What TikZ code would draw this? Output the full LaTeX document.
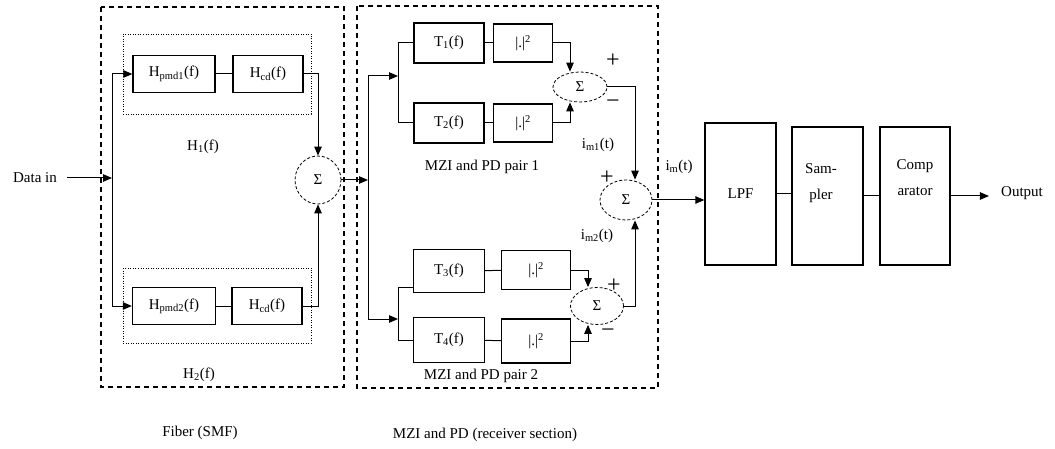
\documentclass[tikz,border=0pt]{standalone}
\usepackage{fontspec}
\setmainfont{Liberation Serif}
\usetikzlibrary{arrows.meta,shapes.geometric,calc}
\begin{document}
\begin{tikzpicture}[x=1pt,y=-1pt,
  every node/.style={font=\fontsize{15}{17}\selectfont, inner sep=0pt},
  blk/.style={draw, line width=1.3pt},
  conn/.style={line width=1pt},
  arr/.style={conn, -{Triangle[length=9pt,width=7.5pt]}},
  sumnode/.style={ellipse, draw, line width=0.8pt, densely dashed},
  sect/.style={line width=1.4pt, dash pattern=on 5pt off 4pt},
  grp/.style={line width=0.8pt, dash pattern=on 1pt off 1.5pt},
  pm/.style={font=\fontsize{24}{24}\selectfont},
  twoline/.style={align=center, font=\fontsize{15}{26}\selectfont}]
\useasboundingbox (0,0) rectangle (1055,449);
% section boxes
\draw[sect] (101,7) rectangle (344,387);
\draw[sect] (357,6) rectangle (658,388);
\draw[grp] (123,34) rectangle (311,114);
\draw[grp] (123,268) rectangle (311,343);
% fiber blocks
\node[blk, minimum width=82pt, minimum height=37pt] (hp1) at (174,74) {H\textsubscript{pmd1}(f)};
\node[blk, minimum width=70pt, minimum height=37pt] (hc1) at (268,74) {H\textsubscript{cd}(f)};
\node[blk, minimum width=83pt, minimum height=37pt] (hp2) at (174,306) {H\textsubscript{pmd2}(f)};
\node[blk, minimum width=70pt, minimum height=37pt] (hc2) at (267,306) {H\textsubscript{cd}(f)};
\node[sumnode, minimum width=46pt, minimum height=48pt] (sigF) at (318,180) {Σ};
\node (data) at (35,178) {Data in};
\coordinate (sTop) at (112,74);
\coordinate (sMid) at (112,178);
\coordinate (sBot) at (112,306);
\draw[conn] (sTop) -- (sBot);
\draw[arr, shorten <=10pt] (data.east) -- (sMid);
\draw[arr] (sTop) -- (hp1.west);
\draw[arr] (sBot) -- (hp2.west);
\draw[conn] (hp1) -- (hc1);
\draw[conn] (hp2) -- (hc2);
\draw[arr] (hc1.east) -| (sigF.north);
\draw[arr] (hc2.east) -| (sigF.south);
\node (h1) at (203,147) {H\textsubscript{1}(f)};
\node (h2) at (199,375) {H\textsubscript{2}(f)};
\node (fib) at (200,433) {Fiber (SMF)};
% MZI section
\coordinate (mTop) at (368,76);
\coordinate (mMid) at (368,180);
\coordinate (mBot) at (368,319);
\draw[arr] (sigF.east) -- (mMid);
\draw[conn] (mTop) -- (mBot);
% pair 1
\node[blk, minimum width=70pt, minimum height=40pt] (t1) at (449,43) {T\textsubscript{1}(f)};
\node[blk, minimum width=59pt, minimum height=38pt] (a1) at (523,43) {|.|\textsuperscript{2}};
\node[blk, minimum width=70pt, minimum height=40pt] (t2) at (449,123) {T\textsubscript{2}(f)};
\node[blk, minimum width=59pt, minimum height=38pt] (a2) at (523,123) {|.|\textsuperscript{2}};
\node[sumnode, minimum width=54pt, minimum height=30pt] (s1) at (580,87) {Σ};
\coordinate (p1a) at (398,43);
\coordinate (p1m) at (398,76);
\coordinate (p1b) at (398,123);
\draw[arr] (mTop) -- (p1m);
\draw[conn] (p1a) -- (p1b);
\draw[conn] (p1a) -- (t1.west);
\draw[conn] (p1b) -- (t2.west);
\draw[conn] (t1) -- (a1);
\draw[conn] (t2) -- (a2);
\coordinate (s1t) at ([xshift=-10pt]s1.north);
\coordinate (s1b) at ([xshift=-10pt]s1.south);
\draw[arr] (a1.east) -| (s1t);
\draw[arr] (a2.east) -| (s1b);
\node[pm] (pl1) at (613,61) {+};
\node[pm] (mi1) at (613,104) {−};
\node (pair1) at (482,167) {MZI and PD pair 1};
% pair 2
\node[blk, minimum width=71pt, minimum height=43pt] (t3) at (449,271) {T\textsubscript{3}(f)};
\node[blk, minimum width=69pt, minimum height=39pt] (a3) at (536,270) {|.|\textsuperscript{2}};
\node[blk, minimum width=71pt, minimum height=45pt] (t4) at (449,340) {T\textsubscript{4}(f)};
\node[blk, minimum width=69pt, minimum height=44pt] (a4) at (536,341) {|.|\textsuperscript{2}};
\node[sumnode, minimum width=53pt, minimum height=37pt] (s2) at (597,306) {Σ};
\coordinate (p2a) at (398,287);
\coordinate (p2m) at (398,319);
\coordinate (p2b) at (398,340);
\draw[arr] (mBot) -- (p2m);
\draw[conn] (p2a) -- (p2b);
\draw[conn] (p2a) -- (p2a -| t3.west);
\draw[conn] (p2b) -- (t4.west);
\draw[conn] (t3) -- (a3);
\draw[conn] (t4) -- (a4);
\coordinate (s2t) at ([xshift=-9pt]s2.north);
\coordinate (s2b) at ([xshift=-9pt]s2.south);
\draw[arr] (a3.east) -| (s2t);
\draw[arr] (a4.east) -| (s2b);
\node[pm] (pl2) at (614,286) {+};
\node[pm] (mi2) at (608,333) {−};
\node (pair2) at (481,376) {MZI and PD pair 2};
% combining sum
\node[sumnode, minimum width=52pt, minimum height=40pt] (sc) at (626,200) {Σ};
\coordinate (sct) at ([xshift=9pt]sc.north);
\coordinate (scb) at ([xshift=9pt]sc.south);
\draw[arr] (s1.east) -| (sct);
\draw[arr] (s2.east) -| (scb);
\node[pm] (pl3) at (607,178) {+};
\node (im1) at (598,145) {i\textsubscript{m1}(t)};
\node (im2) at (597,236) {i\textsubscript{m2}(t)};
\node (im) at (679,167) {i\textsubscript{m}(t)};
\node (recv) at (485,435) {MZI and PD (receiver section)};
% right blocks
\node[blk, minimum width=71pt, minimum height=142pt] (lpf) at (740.5,194) {LPF};
\node[blk, minimum width=71pt, minimum height=138pt] (samp) at (827.5,196) {};
\node[twoline] (samptxt) at (821,183) {Sam-\\pler};
\node[blk, minimum width=70pt, minimum height=138pt] (comp) at (915,196) {};
\node[twoline] (comptxt) at (915,178) {Comp\\arator};
\node (out) at (1022,193) {Output};
\draw[arr] (sc.east) -- (sc.east -| lpf.west);
\draw[conn] (lpf.east) -- (lpf.east -| samp.west);
\draw[conn] (samp.east) -- (samp.east -| comp.west);
\draw[arr, shorten >=12pt] (comp.east) -- (comp.east -| out.west);
\end{tikzpicture}
\end{document}
